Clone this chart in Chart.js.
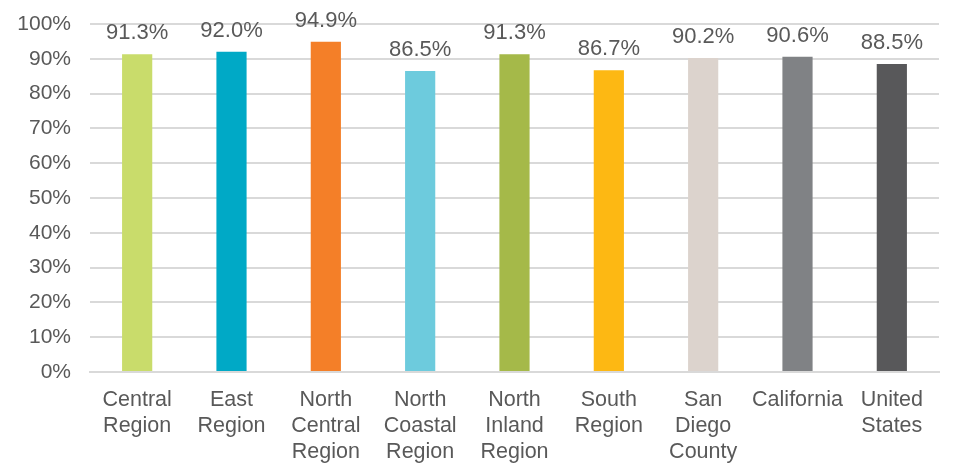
<!DOCTYPE html>
<html>
<head>
<meta charset="utf-8">
<script src="https://cdn.jsdelivr.net/npm/chart.js@4"></script>
<style>
  html, body { margin: 0; padding: 0; background: #fff; }
  #wrap { width: 957px; height: 464px; }
</style>
</head>
<body>
<div id="wrap"><canvas id="grafico" width="957" height="464"></canvas></div>
<script>
// Datos del gráfico
const regiones = [
  ["Central", "Region"], ["East", "Region"], ["North", "Central", "Region"],
  ["North", "Coastal", "Region"], ["North", "Inland", "Region"], ["South", "Region"],
  ["San", "Diego", "County"], ["California"], ["United", "States"]
];
const porcentajes = [91.3, 92.0, 94.9, 86.5, 91.3, 86.7, 90.2, 90.6, 88.5];
const colores = ["#c9dc6b", "#00a9c6", "#f47f28", "#6dcbdd", "#a5b949", "#fdb813", "#dcd3cd", "#808285", "#58585a"];
const ticksY = [0, 10, 20, 30, 40, 50, 60, 70, 80, 90, 100];

const fuente = "'Liberation Sans', Arial, sans-serif";
const gris = "#595959";

// Etiquetas encima de cada barra
const etiquetas = {
  id: "etiquetas",
  afterDatasetsDraw(chart) {
    const ctx = chart.ctx;
    const meta = chart.getDatasetMeta(0);
    ctx.save();
    ctx.font = "22px " + fuente;
    ctx.fillStyle = gris;
    ctx.textAlign = "center";
    ctx.textBaseline = "alphabetic";
    meta.data.forEach((bar, i) => {
      ctx.fillText(porcentajes[i].toFixed(1) + "%", bar.x, bar.y - 15);
    });
    ctx.restore();
  }
};

new Chart(document.getElementById("grafico"), {
  type: "bar",
  data: {
    labels: regiones,
    datasets: [{
      data: porcentajes,
      backgroundColor: colores,
      barPercentage: 0.64,
      categoryPercentage: 0.5
    }]
  },
  options: {
    responsive: false,
    animation: false,
    layout: { autoPadding: false, padding: { top: 24, right: 18, left: 0, bottom: 0 } },
    plugins: { legend: { display: false }, tooltip: { enabled: false } },
    scales: {
      x: {
        grid: { display: false, drawTicks: false },
        border: { display: true, color: "#d9d9d9", width: 2 },
        ticks: {
          color: gris, padding: 15, maxRotation: 0, autoSkip: false,
          font: { family: fuente, size: 21.5, lineHeight: 1.21 }
        },
        afterFit(s) { s.height = 92; }
      },
      y: {
        min: 0, max: 100,
        afterBuildTicks(s) { s.ticks = ticksY.map(v => ({ value: v })); },
        grid: { color: "#d9d9d9", lineWidth: 2, drawTicks: false },
        border: { display: false },
        ticks: {
          color: gris, padding: 19,
          font: { family: fuente, size: 21 },
          callback: v => v + "%"
        },
        afterFit(s) { s.width = 90; s.paddingTop = 0; s.paddingBottom = 0; }
      }
    }
  },
  plugins: [etiquetas]
});
</script>
</body>
</html>
